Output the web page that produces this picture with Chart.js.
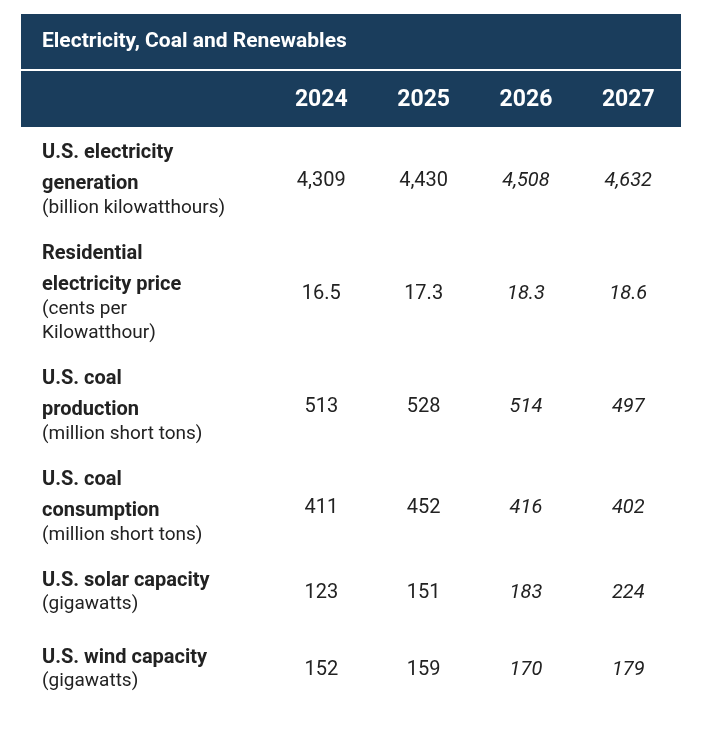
<!DOCTYPE html>
<html>
<head>
<meta charset="utf-8">
<script src="https://cdn.jsdelivr.net/npm/chart.js@4/dist/chart.umd.min.js"></script>
<style>
  html, body { margin: 0; padding: 0; background: #fff; }
  #wrap { width: 704px; height: 732px; }
</style>
</head>
<body>
<div id="wrap"><canvas id="c"></canvas></div>
<script>
const title = 'Electricity, Coal and Renewables'
const years = ['2024', '2025', '2026', '2027']
const forecastFrom = 2 // 2026 and 2027 are italic (forecast)
const rowBold = [
  ['U.S. electricity', 'generation'],
  ['Residential', 'electricity price'],
  ['U.S. coal', 'production'],
  ['U.S. coal', 'consumption'],
  ['U.S. solar capacity'],
  ['U.S. wind capacity'],
]
const rowUnits = [
  ['(billion kilowatthours)'],
  ['(cents per', 'Kilowatthour)'],
  ['(million short tons)'],
  ['(million short tons)'],
  ['(gigawatts)'],
  ['(gigawatts)'],
]
const values = [
  ['4,309', '4,430', '4,508', '4,632'],
  ['16.5', '17.3', '18.3', '18.6'],
  ['513', '528', '514', '497'],
  ['411', '452', '416', '402'],
  ['123', '151', '183', '224'],
  ['152', '159', '170', '179'],
]

const navy = '#1a3d5c'
const ink = '#222222'

// row layout in page units (y scale runs 0..732 top to bottom)
const rows = []
let y = 153
rowBold.forEach((b, i) => {
  const lines = []
  b.forEach((t, j) => { if (j > 0) y += 31; lines.push({ t, y, bold: true }) })
  rowUnits[i].forEach(t => { y += lines.length === 1 && b.length === 1 ? 23 : 24; lines.push({ t, y, bold: false }) })
  const mid = (lines[0].y + lines[lines.length - 1].y) / 2
  rows.push({ lines, mid })
  y += (b.length + rowUnits[i].length > 2) ? 46 : 54
})

const points = []
rows.forEach((r, i) => years.forEach((yr, j) => points.push({ x: j, y: r.mid, label: values[i][j], italic: j >= forecastFrom })))

const tablePlugin = {
  id: 'tableText',
  beforeDatasetsDraw(chart) {
    const { ctx } = chart
    const xs = chart.scales.x, ys = chart.scales.y
    ctx.save()
    // header block
    ctx.fillStyle = navy
    ctx.fillRect(21, ys.getPixelForValue(14), 660, ys.getPixelForValue(127) - ys.getPixelForValue(14))
    ctx.fillStyle = '#ffffff'
    ctx.fillRect(21, ys.getPixelForValue(69), 660, 2)
    ctx.textBaseline = 'middle'
    ctx.font = 'bold 21px Roboto'
    ctx.fillText(title, 42, ys.getPixelForValue(42))
    ctx.font = 'bold 23px Roboto'
    ctx.textAlign = 'center'
    years.forEach((yr, j) => ctx.fillText(yr, xs.getPixelForValue(j), ys.getPixelForValue(100)))
    // row labels
    ctx.textAlign = 'left'
    ctx.fillStyle = ink
    rows.forEach(r => r.lines.forEach(l => {
      ctx.font = (l.bold ? 'bold 20px' : '19px') + ' Roboto'
      ctx.fillText(l.t, 42, ys.getPixelForValue(l.y))
    }))
    // cell values
    ctx.textAlign = 'center'
    points.forEach(p => {
      ctx.font = (p.italic ? 'italic ' : '') + '20px Roboto'
      ctx.fillText(p.label, xs.getPixelForValue(p.x), ys.getPixelForValue(p.y))
    })
    ctx.restore()
  }
}

new Chart(document.getElementById('c'), {
  type: 'scatter',
  data: { datasets: [{ data: points, pointRadius: 0 }] },
  options: {
    responsive: true,
    maintainAspectRatio: false,
    animation: false,
    layout: { padding: 0 },
    scales: {
      x: { type: 'linear', min: -3.14, max: 3.74, display: false },
      y: { type: 'linear', min: 0, max: 732, reverse: true, display: false }
    },
    plugins: { legend: { display: false }, tooltip: { enabled: false } }
  },
  plugins: [tablePlugin]
})
</script>
</body>
</html>
